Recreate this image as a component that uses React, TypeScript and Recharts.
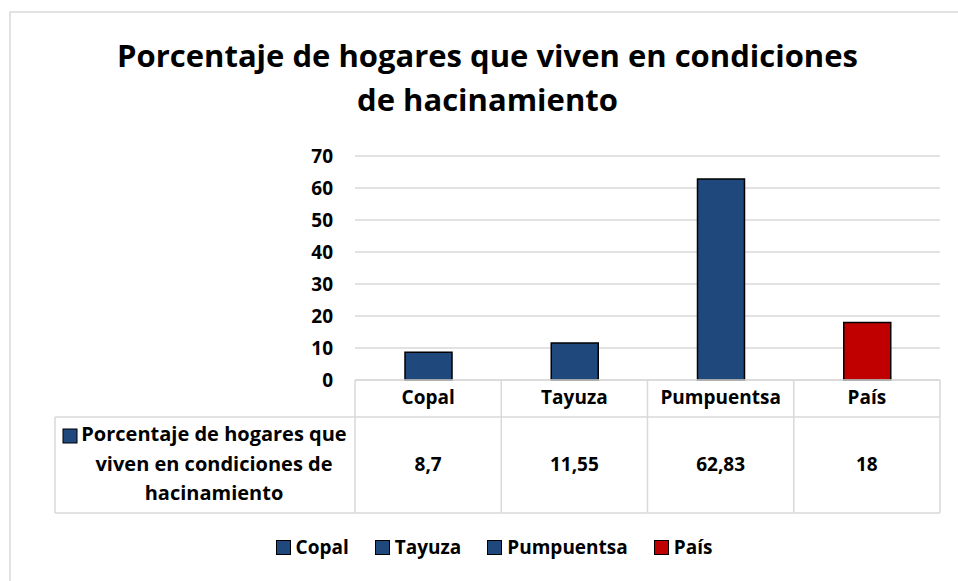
import { BarChart, Bar, XAxis, YAxis, CartesianGrid, Cell, Legend } from "recharts";

const categories = ["Copal", "Tayuza", "Pumpuentsa", "País"];
const values = [8.7, 11.55, 62.83, 18];
const valueLabels = ["8,7", "11,55", "62,83", "18"];
const barColors = ["#1F497D", "#1F497D", "#1F497D", "#C00000"];
const yTicks = [0, 10, 20, 30, 40, 50, 60, 70];
const titleLines = [
  "Porcentaje de hogares que viven en condiciones",
  "de hacinamiento",
];
const seriesLabelLines = [
  "Porcentaje de hogares que",
  "viven en condiciones de",
  "hacinamiento",
];

const FONT = "'Open Sans', sans-serif";
const GRID = "#D9D9D9";
const HEADER_H = 37;
const ROW_H = 96;

const data = categories.map((c, i) => ({ name: c, valor: values[i] }));

function TableTick(props: any) {
  const { x, y, payload, index } = props;
  const half = payload && payload.offset ? payload.offset : 73;
  const bottom = y + HEADER_H + ROW_H;
  const last = index === categories.length - 1;
  return (
    <g>
      <line x1={x - half} x2={x - half} y1={y} y2={bottom} stroke={GRID} strokeWidth={1.5} />
      {last && (
        <line x1={x + half} x2={x + half} y1={y} y2={bottom} stroke={GRID} strokeWidth={1.5} />
      )}
      <line x1={x - half} x2={x + half} y1={y + HEADER_H} y2={y + HEADER_H} stroke={GRID} strokeWidth={1.5} />
      <line x1={x - half} x2={x + half} y1={bottom} y2={bottom} stroke={GRID} strokeWidth={1.5} />
      <text x={x} y={y + 24} textAnchor="middle" fontFamily={FONT} fontWeight={700} fontSize={19} fill="#000">
        {payload.value}
      </text>
      <text x={x} y={y + HEADER_H + 54} textAnchor="middle" fontFamily={FONT} fontWeight={700} fontSize={19} fill="#000">
        {valueLabels[index]}
      </text>
    </g>
  );
}

function LegendBox() {
  return (
    <div
      style={{
        height: 68,
        display: "flex",
        justifyContent: "center",
        alignItems: "center",
        paddingLeft: 30,
        fontFamily: FONT,
        fontWeight: 700,
        fontSize: 19,
        color: "#000",
      }}
    >
      {categories.map((c, i) => (
        <div key={c} style={{ display: "flex", alignItems: "center", marginRight: i < categories.length - 1 ? 26 : 0 }}>
          <span
            style={{
              width: 13,
              height: 13,
              background: barColors[i],
              border: "1px solid #000",
              marginRight: 5,
              display: "inline-block",
            }}
          />
          <span>{c}</span>
        </div>
      ))}
    </div>
  );
}

export default function App() {
  return (
    <div style={{ position: "absolute", left: 0, top: 0, width: 958, height: 581, overflow: "hidden", background: "#fff" }}>
      <BarChart width={958} height={581} data={data} margin={{ top: 156, right: 18, bottom: 0, left: 0 }}>
        <CartesianGrid vertical={false} stroke={GRID} strokeWidth={1.5} />
        <XAxis
          dataKey="name"
          height={133}
          axisLine={{ stroke: GRID, strokeWidth: 1.5 }}
          tickLine={false}
          tickSize={0}
          tickMargin={0}
          interval={0}
          tick={<TableTick />}
        />
        <YAxis
          width={355}
          domain={[0, 70]}
          ticks={yTicks}
          axisLine={false}
          tickLine={false}
          tickSize={0}
          tickMargin={22}
          tick={{ fill: "#000", fontSize: 19, fontWeight: 700, fontFamily: FONT }}
        />
        <Legend verticalAlign="bottom" height={68} wrapperStyle={{ left: 0, width: 958 }} content={() => <LegendBox />} />
        <Bar dataKey="valor" barSize={47} stroke="#000" strokeWidth={1.5} isAnimationActive={false}>
          {data.map((d, i) => (
            <Cell key={d.name} fill={barColors[i]} />
          ))}
        </Bar>
      </BarChart>
      <svg width={958} height={581} style={{ position: "absolute", left: 0, top: 0, pointerEvents: "none" }}>
        <rect x={10} y={12} width={1000} height={1000} fill="none" stroke={GRID} strokeWidth={1.5} />
        {titleLines.map((t, i) => (
          <text key={t} x={487.5} y={67 + i * 44} textAnchor="middle" fontFamily={FONT} fontWeight={700} fontSize={31} fill="#000">
            {t}
          </text>
        ))}
        <line x1={55} x2={55} y1={417} y2={513} stroke={GRID} strokeWidth={1.5} />
        <line x1={55} x2={355} y1={417} y2={417} stroke={GRID} strokeWidth={1.5} />
        <line x1={55} x2={355} y1={513} y2={513} stroke={GRID} strokeWidth={1.5} />
        <rect x={63} y={429} width={14} height={14} fill={barColors[0]} stroke="#000" strokeWidth={1} />
        {seriesLabelLines.map((t, i) => (
          <text key={t} x={214} y={441 + i * 29.5} textAnchor="middle" fontFamily={FONT} fontWeight={700} fontSize={20} fill="#000">
            {t}
          </text>
        ))}
      </svg>
    </div>
  );
}
